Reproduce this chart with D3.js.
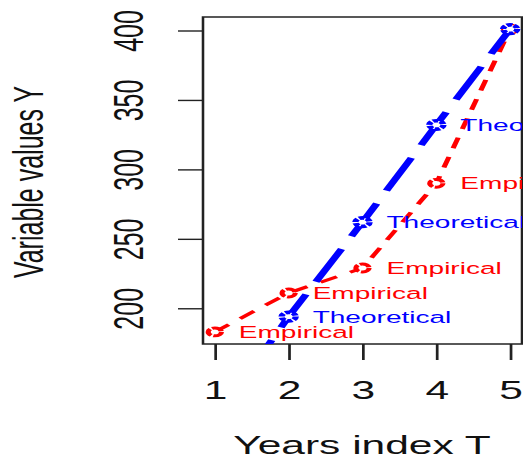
<!DOCTYPE html>
<html>
<head>
<meta charset="utf-8">
<script src="https://cdn.jsdelivr.net/npm/d3@7"></script>
<style>
  html, body { margin: 0; padding: 0; background: #fff; }
  svg { display: block; }
  text { font-family: "Liberation Sans", Arial, Helvetica, sans-serif; }
</style>
</head>
<body>
<svg id="chart" width="523" height="461"></svg>
<script>
// Years index and the two series of variable values
const years = [1, 2, 3, 4, 5];
const empirical = [183, 211, 229, 290, 401];
const theoretical = [120, 194, 262, 332, 401];
const xTicks = [1, 2, 3, 4, 5];
const yTicks = [200, 250, 300, 350, 400];
const xTitle = "Years index T";
const yTitle = "Variable values Y";

const sx = 1.7; // horizontal stretch of the whole drawing
const box = { left: 203, right: 522, top: 17, bottom: 344 };

const svg = d3.select("#chart");
const g = svg.append("g").attr("transform", `scale(${sx},1)`);

// axis limits with a 4% pad on each side
const xPad = (d3.max(years) - d3.min(years)) * 0.04;
const yPad = (d3.max(empirical) - d3.min(empirical)) * 0.04;
const x = d3.scaleLinear()
  .domain([d3.min(years) - xPad, d3.max(years) + xPad])
  .range([box.left / sx, box.right / sx]);
const y = d3.scaleLinear()
  .domain([d3.min(empirical) - yPad, d3.max(empirical) + yPad])
  .range([box.bottom, box.top]);

g.append("defs").append("clipPath").attr("id", "plotClip")
  .append("rect")
  .attr("x", box.left / sx).attr("y", box.top)
  .attr("width", (box.right - box.left) / sx).attr("height", box.bottom - box.top);

// y axis
const yAxis = g.append("g").attr("transform", `translate(${box.left / sx},0)`)
  .call(d3.axisLeft(y).tickValues(yTicks).tickSize(25 / sx).tickPadding(0).tickFormat(d3.format("d")));
yAxis.select(".domain").remove();
yAxis.selectAll(".tick line").attr("stroke", "#222").attr("stroke-width", 1.4);
yAxis.selectAll(".tick text")
  .attr("x", null).attr("dy", null)
  .attr("transform", `translate(${(128 - box.left) / sx},0) rotate(-90)`)
  .attr("text-anchor", "middle")
  .attr("dominant-baseline", "central")
  .attr("font-size", 25).attr("fill", "#111");

// x axis
const xAxis = g.append("g").attr("transform", `translate(0,${box.bottom})`)
  .call(d3.axisBottom(x).tickValues(xTicks).tickSize(16).tickPadding(0).tickFormat(d3.format("d")));
xAxis.select(".domain").remove();
xAxis.selectAll(".tick line").attr("stroke", "#222").attr("stroke-width", 1.6);
xAxis.selectAll(".tick text")
  .attr("y", 399 - box.bottom).attr("dy", null)
  .attr("font-size", 25).attr("fill", "#111");

// frame
g.append("rect")
  .attr("x", box.left / sx).attr("y", box.top)
  .attr("width", (box.right - box.left) / sx).attr("height", box.bottom - box.top)
  .attr("fill", "none").attr("stroke", "#222").attr("stroke-width", 1.5);

// titles
g.append("text")
  .attr("x", 362 / sx).attr("y", 454)
  .attr("text-anchor", "middle").attr("font-size", 25).attr("fill", "#111")
  .text(xTitle);
g.append("text")
  .attr("transform", `translate(${28 / sx},182) rotate(-90)`)
  .attr("text-anchor", "middle").attr("dominant-baseline", "central")
  .attr("font-size", 25).attr("fill", "#111")
  .text(yTitle);

const plot = g.append("g").attr("clip-path", "url(#plotClip)");
const line = d3.line().x((d, i) => x(years[i])).y(d => y(d));

function drawSeries(values, color, width, dash, r, sw, markDash, label) {
  plot.append("path").datum(values)
    .attr("d", line).attr("fill", "none")
    .attr("stroke", color).attr("stroke-width", width)
    .attr("stroke-dasharray", dash);
  plot.selectAll(null).data(values).enter().append("circle")
    .attr("cx", (d, i) => x(years[i])).attr("cy", d => y(d)).attr("r", r)
    .attr("fill", "#fff").attr("stroke", color).attr("stroke-width", sw)
    .attr("stroke-dasharray", markDash);
  plot.selectAll(null).data(values).enter().append("text")
    .attr("x", (d, i) => x(years[i]) + 24 / sx).attr("y", d => y(d) + 6)
    .attr("font-size", 16.5).attr("fill", color)
    .text(label);
}

drawSeries(empirical, "#ff0000", 3, "11,9", 3.9, 3, "7,1.3", "Empirical");
drawSeries(theoretical, "#0000ff", 4.5, "36,14", 4.2, 3.7, "3.3,1.1", "Theoretical");
</script>
</body>
</html>
